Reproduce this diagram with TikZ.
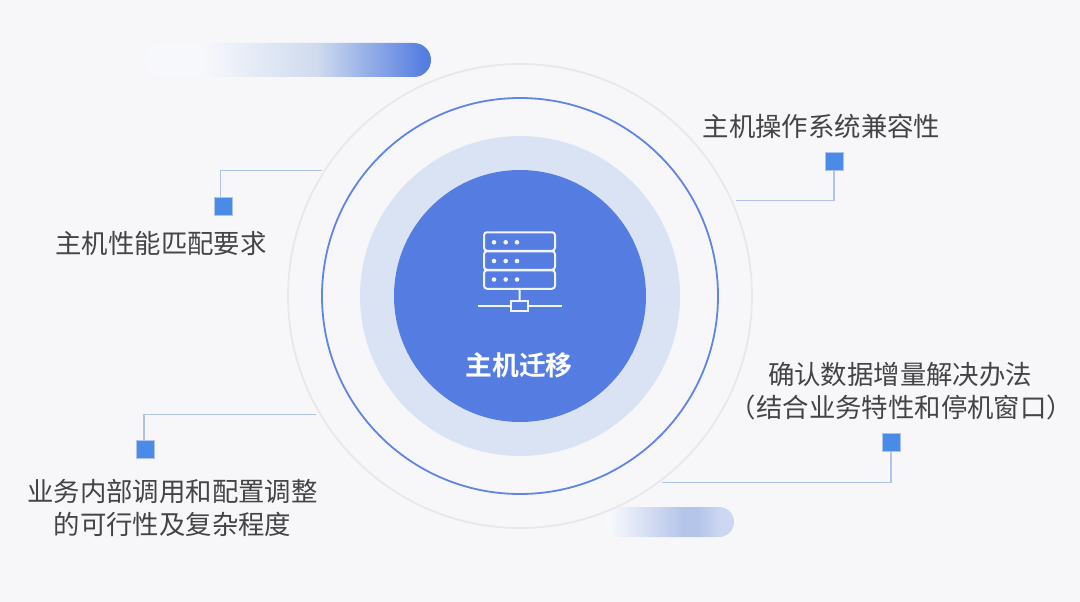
\documentclass[tikz,border=0pt]{standalone}
\usepackage{fontspec}
\setmainfont{Noto Sans CJK SC}
\newfontfamily\cjkb[BoldFont={Noto Sans CJK SC Bold}]{Noto Sans CJK SC}
\definecolor{bgc}{HTML}{F7F7FA}
\definecolor{corec}{HTML}{557DE1}
\definecolor{halo}{HTML}{DAE3F4}
\definecolor{ringc}{HTML}{5F85E6}
\definecolor{outerc}{HTML}{E8E8EA}
\definecolor{sq}{HTML}{4A8BE8}
\definecolor{wire}{HTML}{AFC3EA}
\definecolor{txt}{HTML}{444444}
\definecolor{barA}{HTML}{F7F8FC}
\definecolor{barB}{HTML}{CFDBEE}
\definecolor{barC}{HTML}{557DE1}
\definecolor{barD}{HTML}{B5C5EA}
\definecolor{barE}{HTML}{CDD7F2}
\pgfdeclarehorizontalshading{barone}{100bp}{color(0bp)=(barA); color(25bp)=(barA); color(35bp)=(barA); color(55bp)=(barB); color(74bp)=(barC); color(100bp)=(barC)}
\pgfdeclarehorizontalshading{bartwo}{100bp}{color(0bp)=(barA); color(25bp)=(barA); color(27bp)=(barA); color(55bp)=(barD); color(61bp)=(barD); color(70bp)=(barE); color(100bp)=(barE)}
\tikzset{
  disc/.style={circle,inner sep=0pt,minimum size=#1},
  marker/.style={rectangle,draw=wire,line width=.6pt,fill=sq,minimum size=18pt,inner sep=0pt},
  wireline/.style={draw=wire,line width=1.2pt},
  lbl/.style={text=txt,font=\fontsize{26.4pt}{33pt}\selectfont,align=center,inner sep=0pt},
  icon/.style={draw=white!92!corec,line width=2pt},
}
\begin{document}
\begin{tikzpicture}[x=1pt,y=-1pt]
\useasboundingbox[fill=bgc] (0,0) rectangle (1080,602);
% decorative bars
\shade[shading=barone,rounded corners=17pt] (145,43) rectangle (431,77);
\shade[shading=bartwo,rounded corners=15pt] (605,507) rectangle (734,537);
% circles
\node[disc=464pt,draw=outerc,line width=1.8pt] (outer) at (520,296) {};
\node[disc=396pt,draw=ringc,line width=1.8pt] (ring) at (520,296) {};
\node[disc=320pt,fill=halo] (halo) at (520,296) {};
\node[disc=252pt,fill=corec] (core) at (520,296) {};
% server icon
\node[rectangle,rounded corners=3pt,icon,minimum width=71pt,minimum height=18.5pt,inner sep=0pt] (s1) at (519.5,241.5) {};
\node[rectangle,rounded corners=3pt,icon,minimum width=71pt,minimum height=18.5pt,inner sep=0pt] (s2) at (519.5,260.5) {};
\node[rectangle,rounded corners=3pt,icon,minimum width=71pt,minimum height=18.5pt,inner sep=0pt] (s3) at (519.5,279.5) {};
\foreach \y in {242.3,261,279.5}\foreach \x in {494,505.7,517}
  \fill[white!92!corec] (\x,\y) circle[radius=2.3];
\node[rectangle,icon,minimum width=17pt,minimum height=10pt,inner sep=0pt] (hub) at (519.7,306) {};
\coordinate (busL) at (478,306);
\coordinate (busR) at (561.5,306);
\draw[icon] (s3.south) -- (hub.north);
\draw[icon] (busL) -- (hub.west);
\draw[icon] (hub.east) -- (busR);
\node[text=white,font=\cjkb\bfseries\fontsize{26.8pt}{30pt}\selectfont,inner sep=0pt] (title) at (519,365) {主机迁移};
% markers
\node[marker] (m1) at (223,206) {};
\node[marker] (m2) at (834,161) {};
\node[marker] (m3) at (891,442) {};
\node[marker] (m4) at (145,449) {};
\coordinate (e1) at (322,170.5);
\coordinate (e2) at (736,200.5);
\coordinate (e3) at (662,482.5);
\coordinate (e4) at (316,414.5);
\draw[wireline] ([xshift=-2.5pt]m1.north) |- (e1);
\draw[wireline] (m2.south) |- (e2);
\draw[wireline] (m3.south) |- (e3);
\draw[wireline] ([xshift=-1pt]m4.north) |- (e4);
% labels
\node[lbl] (l1) at (161,243) {主机性能匹配要求};
\node[lbl] (l2) at (821.5,126) {主机操作系统兼容性};
\node[lbl] (l3) at (901.5,391) {\hspace*{-3pt}确认数据增量解决办法\\（结合业务特性和停机窗口）};
\node[lbl] (l4) at (172.5,508) {业务内部调用和配置调整\\的可行性及复杂程度};
\end{tikzpicture}
\end{document}
